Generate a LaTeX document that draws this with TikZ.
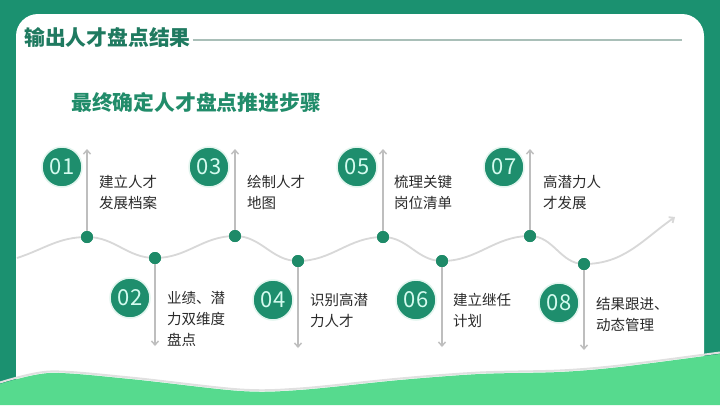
\documentclass[tikz,border=0pt]{standalone}
\usepackage{fontspec}
\setmainfont{Noto Sans CJK SC}
\usetikzlibrary{arrows.meta,calc}
\definecolor{bgdark}{HTML}{1B9170}
\definecolor{lightgreen}{HTML}{56DA8E}
\definecolor{circc}{HTML}{1E8E6D}
\definecolor{dotc}{HTML}{1E8A68}
\definecolor{numc}{HTML}{D4FBEF}
\definecolor{titleA}{HTML}{1F7A60}
\definecolor{titleB}{HTML}{218C6A}
\definecolor{rulec}{HTML}{A9BFB8}
\definecolor{arrc}{HTML}{BEBEBE}
\definecolor{wavec}{HTML}{D8D8D8}
\definecolor{txtc}{HTML}{2A2A2A}
\definecolor{haloc}{HTML}{E2F5EE}
\tikzset{
  numcirc/.style={circle, fill=circc, draw=haloc, line width=1.5pt, minimum size=40pt, inner sep=0pt, text=numc, font=\fontsize{22}{22}\selectfont},
  wdot/.style={circle, fill=dotc, minimum size=12pt, inner sep=0pt},
  arr/.style={arrc, line width=1.4pt, -{Straight Barb[length=4pt,width=7pt]}},
  wave/.style={wavec, line width=1.8pt, -{Straight Barb[length=4pt,width=7pt]}},
  desc/.style={anchor=west, align=left, inner sep=0pt, text=txtc, font=\fontsize{14.5}{21}\selectfont},
  ttl/.style={anchor=west, inner sep=0pt, font=\fontsize{20.8}{21}\selectfont\bfseries},
}
\begin{document}
\begin{tikzpicture}[x=1pt,y=1pt]
\useasboundingbox (0,0) rectangle (720,-405);
% background
\fill[bgdark] (0,0) rectangle (720,-405);
\fill[white, rounded corners=22pt] (16,-14) rectangle (704,-430);
% bottom light green wave (with faint shadow)
\draw[black!12, line width=2pt] plot[smooth] coordinates {(0,-382.5) (50,-371.5) (130,-377.5) (240,-389.5) (300,-388.5) (400,-378.5) (480,-372.5) (560,-370.5) (620,-365.5) (720,-352.5)};
\fill[lightgreen] (0,-405) -- plot[smooth] coordinates {(0,-384) (50,-373) (130,-379) (240,-391) (300,-390) (400,-380) (480,-374) (560,-372) (620,-367) (720,-354)} -- (720,-405) -- cycle;
% titles
\node[ttl, text=titleA] (t1) at (24,-37) {输出人才盘点结果};
\coordinate (r1) at (682,-40);
\draw[rulec, line width=1.5pt] ($(t1.east |- r1)+(2,0)$) -- (r1);
\node[ttl, text=titleB] (t2) at (71,-103) {最终确定人才盘点推进步骤};
% wave dots
\node[wdot] (d1) at (87,-237) {};
\node[wdot] (d2) at (155,-258) {};
\node[wdot] (d3) at (235,-236) {};
\node[wdot] (d4) at (298,-261) {};
\node[wdot] (d5) at (383,-237) {};
\node[wdot] (d6) at (442,-261) {};
\node[wdot] (d7) at (530,-236) {};
\node[wdot] (d8) at (584,-264) {};
\coordinate (w0) at (17,-258);
\coordinate (wend) at (675,-217);
% wave line
\draw[wave] (w0) to[out=18,in=180] (d1.center) to[out=0,in=180] (d2.center) to[out=0,in=180] (d3.center) to[out=0,in=180] (d4.center) to[out=0,in=180] (d5.center) to[out=0,in=180] (d6.center) to[out=0,in=180] (d7.center) to[out=0,in=180] (d8.center) to[out=0,in=-145] (wend);
% arrows
\coordinate (a1) at (87,-149);
\coordinate (a3) at (235,-149);
\coordinate (a5) at (383,-149);
\coordinate (a7) at (530,-149);
\coordinate (a2) at (155,-346);
\coordinate (a4) at (298,-348);
\coordinate (a6) at (442,-347);
\coordinate (a8) at (584,-350);
\draw[arr] (d1.center) -- (a1);
\draw[arr] (d3.center) -- (a3);
\draw[arr] (d5.center) -- (a5);
\draw[arr] (d7.center) -- (a7);
\draw[arr] (d2.center) -- (a2);
\draw[arr] (d4.center) -- (a4);
\draw[arr] (d6.center) -- (a6);
\draw[arr] (d8.center) -- (a8);
% redraw dots on top
\foreach \p in {d1,d2,d3,d4,d5,d6,d7,d8} {\fill[dotc] (\p.center) circle (6pt);}
% number circles
\node[numcirc] (c1) at (62,-167) {01};
\node[numcirc] (c3) at (209,-167) {03};
\node[numcirc] (c5) at (357,-167) {05};
\node[numcirc] (c7) at (504,-167) {07};
\node[numcirc] (c2) at (130,-298) {02};
\node[numcirc] (c4) at (273,-300) {04};
\node[numcirc] (c6) at (416,-300) {06};
\node[numcirc] (c8) at (559,-303) {08};
% descriptions
\node[desc] (x1) at (99,-192.5) {建立人才\\发展档案};
\node[desc] (x3) at (247,-192.5) {绘制人才\\地图};
\node[desc] (x5) at (394,-192.5) {梳理关键\\岗位清单};
\node[desc] (x7) at (543,-192.5) {高潜力人\\才发展};
\node[desc] (x2) at (167,-319) {业绩、潜\\力双维度\\盘点};
\node[desc] (x4) at (310,-310.5) {识别高潜\\力人才};
\node[desc] (x6) at (453,-310.5) {建立继任\\计划};
\node[desc] (x8) at (596,-314) {结果跟进、\\动态管理};
\end{tikzpicture}
\end{document}
